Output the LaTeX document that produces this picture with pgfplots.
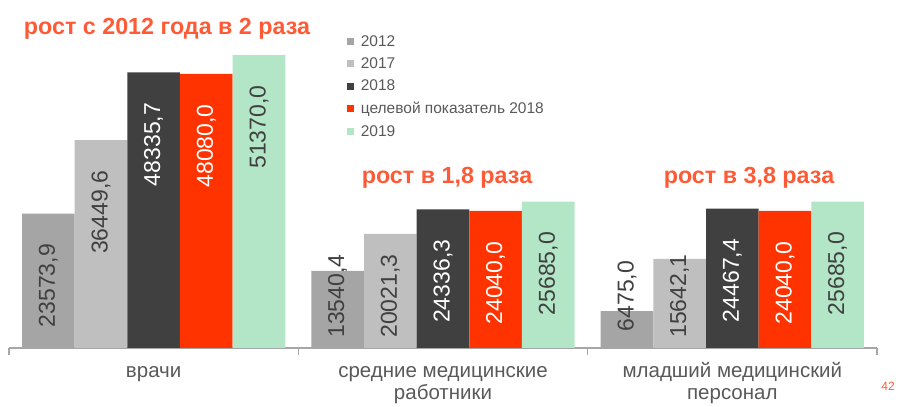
\documentclass[border=0pt]{standalone}
\usepackage{pgfplots}
\pgfplotsset{compat=1.18}
\usepackage{fontspec}
\setmainfont{Liberation Sans}
\definecolor{cA}{HTML}{A5A5A5}
\definecolor{cB}{HTML}{BFBFBF}
\definecolor{cC}{HTML}{404040}
\definecolor{cD}{HTML}{FF3300}
\definecolor{cE}{HTML}{B3E6C6}
\definecolor{txt}{HTML}{404040}
\definecolor{lbl}{HTML}{595959}
\definecolor{ttl}{HTML}{FF5A36}
\definecolor{axl}{HTML}{A6A6A6}
\begin{document}
\begin{tikzpicture}
\useasboundingbox (0pt,0pt) rectangle (898pt,407pt);
\begin{axis}[
  at={(9pt,59pt)}, anchor=south west,
  scale only axis, width=868pt, height=342pt,
  xmin=-0.5, xmax=2.5, ymin=0, ymax=60000,
  clip=false,
  axis y line=none, axis x line*=bottom,
  x axis line style={draw=axl, line width=1.2pt},
  xtick={0,1,2},
  xticklabels={{\vphantom{й}врачи}, {\vphantom{й}средние медицинские\\работники}, {младший медицинский\\персонал}},
  major x tick style={draw=none},
  minor xtick={-0.5,0.5,1.5,2.5},
  minor x tick style={draw=axl, line width=1.2pt},
  minor tick length=7pt,
  tick align=outside,
  xticklabel style={align=center, font=\fontsize{20.5}{22}\selectfont, text=lbl, yshift=-6.5pt},
  ybar=0pt,
  bar width=0.182,
  nodes near coords={\pgfmathprintnumber[fixed,fixed zerofill,precision=1,use comma,1000 sep={},assume math mode=true]{\pgfplotspointmeta}},
  visualization depends on={max(-12630,9120-y) \as \dy},
  every node near coord/.append style={shift={(axis direction cs:0,\dy)}, rotate=90, anchor=center, inner sep=0pt, font=\fontsize{23}{23}\selectfont},
  legend style={at={(0.389,0.921)}, anchor=north west, draw=none, fill=none,
    font=\fontsize{15.5}{18}\selectfont, text=lbl, row sep=6pt, cells={anchor=west}, inner sep=0pt,
    /tikz/every odd column/.append style={column sep=5pt}},
  legend image code/.code={\fill[#1] (0pt,-3.5pt) rectangle (7pt,3.5pt);},
]
\addplot[bar shift=-0.364, fill=cA, draw=none, every node near coord/.append style={text=txt}]
  coordinates {(0,23573.9) (1,13540.4) (2,6475.0)};
\addlegendentry{2012}
\addplot[bar shift=-0.182, fill=cB, draw=none, every node near coord/.append style={text=txt}]
  coordinates {(0,36449.6) (1,20021.3) (2,15642.1)};
\addlegendentry{2017}
\addplot[bar shift=0, fill=cC, draw=none, every node near coord/.append style={text=white}]
  coordinates {(0,48335.7) (1,24336.3) (2,24467.4)};
\addlegendentry{2018}
\addplot[bar shift=0.182, fill=cD, draw=none, every node near coord/.append style={text=white}]
  coordinates {(0,48080.0) (1,24040.0) (2,24040.0)};
\addlegendentry{целевой показатель 2018}
\addplot[bar shift=0.364, fill=cE, draw=none, every node near coord/.append style={text=txt}]
  coordinates {(0,51370.0) (1,25685.0) (2,25685.0)};
\addlegendentry{2019}
\end{axis}
\node[text=ttl, font=\fontsize{23.3}{27}\selectfont\bfseries] at (167pt,378pt) {рост с 2012 года в 2 раза};
\node[text=ttl, font=\fontsize{23.3}{27}\selectfont\bfseries] at (447pt,229pt) {рост в 1,8 раза};
\node[text=ttl, font=\fontsize{23.3}{27}\selectfont\bfseries] at (749pt,229pt) {рост в 3,8 раза};
\node[text=ttl, font=\fontsize{12}{14}\selectfont] at (888pt,21pt) {42};
\end{tikzpicture}
\end{document}
